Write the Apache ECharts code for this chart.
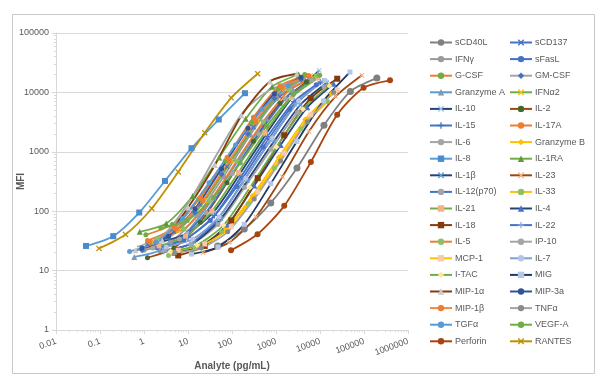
<!DOCTYPE html>
<html><head><meta charset="utf-8">
<script src="https://cdn.jsdelivr.net/npm/echarts@6/dist/echarts.min.js"></script>
<style>html,body{margin:0;padding:0;background:#fff}#c{width:600px;height:389px}</style>
</head><body><div id="c"></div>
<script>
// ---- tick labels ----
const xTickLabels = ['0.01','0.1','1','10','100','1000','10000','100000','1000000'];
const yTickLabels = ['1','10','100','1000','10000','100000'];

// ---- series names (legend order) ----
const seriesNames = ['sCD40L','sCD137','IFNγ','sFasL','G-CSF','GM-CSF','Granzyme A','IFNα2','IL-10','IL-2','IL-15','IL-17A','IL-6','Granzyme B','IL-8','IL-1RA','IL-1β','IL-23','IL-12(p70)','IL-33','IL-21','IL-4','IL-18','IL-22','IL-5','IP-10','MCP-1','IL-7','I-TAC','MIG','MIP-1α','MIP-3a','MIP-1β','TNFα','TGFα','VEGF-A','Perforin','RANTES'];

// ---- series values: analyte (pg/mL) and MFI ----
const sCD40L_x = [47,190,760,3000,12300,49000,196000];
const sCD40L_y = [26,50,138,535,2800,10400,17400];
const sCD137_x = [1.2,4.8,19,77,310,1230,4900];
const sCD137_y = [28,45,130,560,2600,8500,16000];
const IFNg_x = [1.0,4,16,64,256,1020,4100];
const IFNg_y = [22,30,85,380,1900,7800,17000];
const sFasL_x = [2.0,8,32,128,512,2050,8200];
const sFasL_y = [24,33,70,260,1200,5200,13500];
const GCSF_x = [1.1,4.4,17.6,70,280,1130,4500];
const GCSF_y = [40,60,160,700,3100,11500,20000];
const GMCSF_x = [0.9,3.6,14.4,58,230,920,3700];
const GMCSF_y = [22,35,95,420,2000,8000,16500];
const GranzymeA_x = [0.6,2.4,9.6,38,154,614,2460];
const GranzymeA_y = [17,22,45,170,800,3600,11000];
const IFNa2_x = [1.5,6,24,96,384,1540,6150];
const IFNa2_y = [30,48,150,700,3300,11500,19500];
const IL10_x = [2.3,9.4,37.5,150,600,2400,9600];
const IL10_y = [30,42,95,420,2000,8500,23400];
const IL2_x = [1.2,4.8,19,77,307,1230,4900];
const IL2_y = [16.5,24,65,300,1500,6500,15000];
const IL15_x = [2.5,10,40,160,640,2560,10240];
const IL15_y = [25,36,85,380,1800,7000,15000];
const IL17A_x = [1.2,4.8,19,77,307,1230,5400];
const IL17A_y = [32,52,170,800,3800,13000,19000];
const IL6_x = [3.0,12,48,192,770,3070,12300];
const IL6_y = [22,28,60,250,1100,4600,12500];
const GranzymeB_x = [4.5,18,72,288,1150,4600,18400];
const GranzymeB_y = [20,26,50,180,800,3500,9500];
const IL8_x = [0.048,0.2,0.78,3.0,12,50,197];
const IL8_y = [26,38,95,323,1150,3500,9700];
const IL1RA_x = [0.8,3.2,12.8,51,205,820,3280];
const IL1RA_y = [45,62,180,800,3600,12500,20000];
const IL1b_x = [3.5,14,56,224,900,3600,14300];
const IL1b_y = [22,30,75,330,1500,6200,14500];
const IL23_x = [22,88,350,1400,5600,22400,89600];
const IL23_y = [20,30,80,380,2200,8500,19500];
const IL12_x = [1.6,6.4,25.6,102,410,1640,6550];
const IL12_y = [24,34,95,430,2000,7800,16000];
const IL33_x = [3.6,14.5,58,235,920,3700,14800];
const IL33_y = [18,24,45,134,535,2450,7000];
const IL21_x = [2.2,8.8,35,140,560,2250,9000];
const IL21_y = [26,38,100,450,2100,8200,17500];
const IL4_x = [5,20,80,320,1280,5120,20480];
const IL4_y = [20,26,60,270,1300,5600,14000];
const IL18_x = [6,24,96,384,1540,6150,24600];
const IL18_y = [18,26,70,360,1900,8000,17000];
const IL22_x = [2.8,11,45,180,720,2880,11500];
const IL22_y = [21,28,70,320,1500,6400,15500];
const IL5_x = [2.0,8,32,128,512,2050,8200];
const IL5_y = [35,50,150,700,3200,11000,19000];
const IP10_x = [0.7,2.8,11,45,180,720,2900];
const IP10_y = [25,40,150,900,4700,11000,15500];
const MCP1_x = [6,24,96,384,1540,6150,24600];
const MCP1_y = [22,28,55,210,950,4200,11000];
const IL7_x = [3.2,12.8,51,205,820,3280,13100];
const IL7_y = [25,34,80,360,1700,7200,16000];
const ITAC_x = [4,16,64,256,1024,4096,16400];
const ITAC_y = [21,27,58,250,1200,5200,13000];
const MIG_x = [12,48,190,760,3000,12000,48000];
const MIG_y = [19,25,60,290,1500,7200,22000];
const MIP1a_x = [0.64,2.6,10,41,165,730,2950];
const MIP1a_y = [22,32,115,600,4100,15300,20600];
const MIP3a_x = [0.9,3.6,14.4,58,230,920,3700];
const MIP3a_y = [24,38,110,520,2500,9500,18000];
const MIP1b_x = [1.35,5.4,21.6,86,345,1380,5530];
const MIP1b_y = [30,50,150,700,3300,12000,19000];
const TNFa_x = [5,20,80,320,1280,5120,20480];
const TNFa_y = [20,24,45,160,700,3200,10000];
const TGFa_x = [0.47,1.9,7.5,30,120,480,1900];
const TGFa_y = [21,30,75,300,1300,5200,13000];
const VEGFA_x = [2.4,9.6,38,154,614,2460,9830];
const VEGFA_y = [52,70,170,650,2700,9200,19500];
const Perforin_x = [95,380,1540,6200,24600,98000,390000];
const Perforin_y = [22,41,123,675,4200,12000,16000];
const RANTES_x = [0.095,0.38,1.5,6,24,96,384];
const RANTES_y = [23.6,40.6,111,458,2100,8100,20600];

const dataX = [sCD40L_x,sCD137_x,IFNg_x,sFasL_x,GCSF_x,GMCSF_x,GranzymeA_x,IFNa2_x,IL10_x,IL2_x,IL15_x,IL17A_x,IL6_x,GranzymeB_x,IL8_x,IL1RA_x,IL1b_x,IL23_x,IL12_x,IL33_x,IL21_x,IL4_x,IL18_x,IL22_x,IL5_x,IP10_x,MCP1_x,IL7_x,ITAC_x,MIG_x,MIP1a_x,MIP3a_x,MIP1b_x,TNFa_x,TGFa_x,VEGFA_x,Perforin_x,RANTES_x];
const dataY = [sCD40L_y,sCD137_y,IFNg_y,sFasL_y,GCSF_y,GMCSF_y,GranzymeA_y,IFNa2_y,IL10_y,IL2_y,IL15_y,IL17A_y,IL6_y,GranzymeB_y,IL8_y,IL1RA_y,IL1b_y,IL23_y,IL12_y,IL33_y,IL21_y,IL4_y,IL18_y,IL22_y,IL5_y,IP10_y,MCP1_y,IL7_y,ITAC_y,MIG_y,MIP1a_y,MIP3a_y,MIP1b_y,TNFa_y,TGFa_y,VEGFA_y,Perforin_y,RANTES_y];

// ---- styles ----
const SX = 'path://M0,1.5L1.5,0L5,3.5L8.5,0L10,1.5L6.5,5L10,8.5L8.5,10L5,6.5L1.5,10L0,8.5L3.5,5Z';
const SP = 'path://M4,0H6V4H10V6H6V10H4V6H0V4H4Z';
const SD = 'path://M0,4H10V6H0Z';
// [lineColor, markerColor, symbol, size]
const styles = [
 ['#808080','#808080','circle',7],
 ['#4472C4','#4472C4',SX,5],
 ['#9A9A9A','#9A9A9A','circle',5],
 ['#4472C4','#4472C4','circle',5],
 ['#ED7D31','#70AD47','circle',5],
 ['#A5A5A5','#4472C4','diamond',6],
 ['#5B9BD5','#8497B0','triangle',6],
 ['#70AD47','#FFC000',SX,5],
 ['#264478','#9DC3E6',SX,5],
 ['#9E480E','#43682B','circle',5],
 ['#4472C4','#4472C4',SP,6],
 ['#ED7D31','#ED7D31','circle',5],
 ['#A5A5A5','#A5A5A5','circle',5],
 ['#FFC000','#FFC000','diamond',6],
 ['#5B9BD5','#4A8AD0','rect',6],
 ['#70AD47','#5E9A3A','triangle',6],
 ['#264478','#5B9BD5',SX,5],
 ['#9E480E','#F4B183',SX,5],
 ['#4472C4','#A5A5A5','circle',5],
 ['#FFC000','#8CC168','circle',5],
 ['#70AD47','#F4B183','rect',5],
 ['#264478','#4472C4','triangle',6],
 ['#843C0C','#843C0C',SD,6],
 ['#4472C4','#8FAADC',SP,6],
 ['#ED7D31','#8CC168','circle',5],
 ['#A5A5A5','#A5A5A5','none',5],
 ['#FFC000','#F8CBAD','rect',5],
 ['#7F9FD0','#B4C7E7','circle',5],
 ['#70AD47','#FFE699','diamond',6],
 ['#203864','#B4C7E7','rect',5],
 ['#843C0C','#C9C9C9','triangle',6],
 ['#2F5597','#2F5597','circle',5],
 ['#F08A4B','#ED7D31','circle',5],
 ['#A5A5A5','#8C8C8C','circle',5],
 ['#5B9BD5','#5B9BD5','circle',5],
 ['#70AD47','#70AD47','circle',5],
 ['#A9430F','#A9430F','circle',6],
 ['#BF9000','#BF9000',SX,6]
];

const series = seriesNames.map((name, i) => ({
  name: name,
  type: 'line',
  smooth: 0.25,
  data: dataX[i].map((x, k) => [x, dataY[i][k]]),
  symbol: styles[i][2],
  symbolSize: styles[i][3],
  showSymbol: styles[i][2] !== 'none',
  lineStyle: { color: styles[i][0], width: 1.8 },
  itemStyle: { color: styles[i][1] },
  emphasis: { disabled: true },
  animation: false
}));

const leftNames = seriesNames.filter((n, i) => i % 2 === 0);
const rightNames = seriesNames.filter((n, i) => i % 2 === 1);
const legendCommon = {
  orient: 'vertical', top: 37, itemWidth: 22, itemHeight: 8, itemGap: 5.6,
  textStyle: { fontSize: 9, color: '#595959', fontFamily: 'Liberation Sans', lineHeight: 11, padding: [0,0,0,-2] },
  selectedMode: false, padding: 0
};

const chart = echarts.init(document.getElementById('c'), null, { renderer: 'canvas' });
chart.setOption({
  animation: false,
  backgroundColor: '#ffffff',
  graphic: [{ type: 'rect', left: 10, top: 12, shape: { width: 582, height: 359 }, style: { fill: 'none', stroke: '#C8C8C8', lineWidth: 1 }, silent: true }],
  grid: { left: 56, right: 192, top: 33, bottom: 59, containLabel: false, outerBoundsMode: 'none' },
  legend: [
    Object.assign({ left: 429, data: leftNames }, legendCommon),
    Object.assign({ left: 509, data: rightNames }, legendCommon)
  ],
  xAxis: {
    type: 'log', logBase: 10, min: 0.01, max: 1000000,
    name: 'Analyte (pg/mL)', nameLocation: 'middle', nameGap: 31, nameMoveOverlap: false,
    nameTextStyle: { fontSize: 10, fontWeight: 'bold', color: '#595959', fontFamily: 'Liberation Sans' },
    axisLine: { show: true, lineStyle: { color: '#D9D9D9' } },
    axisTick: { show: true, length: 4, lineStyle: { color: '#D9D9D9' } },
    minorTick: { show: true, splitNumber: 9, length: 2, lineStyle: { color: '#D9D9D9' } },
    splitLine: { show: false },
    axisLabel: { rotate: 20, fontSize: 9, color: '#595959', fontFamily: 'Liberation Sans', margin: 11,
      formatter: (v) => xTickLabels[Math.round(Math.log10(v)) + 2] }
  },
  yAxis: {
    type: 'log', logBase: 10, min: 1, max: 100000,
    name: 'MFI', nameLocation: 'middle', nameGap: 30, nameMoveOverlap: false,
    nameTextStyle: { fontSize: 10, fontWeight: 'bold', color: '#595959', fontFamily: 'Liberation Sans' },
    axisLine: { show: true, lineStyle: { color: '#D9D9D9' } },
    axisTick: { show: true, length: 4, lineStyle: { color: '#D9D9D9' } },
    minorTick: { show: true, splitNumber: 9, length: 2, lineStyle: { color: '#D9D9D9' } },
    splitLine: { show: true, lineStyle: { color: '#D9D9D9', width: 1 } },
    axisLabel: { fontSize: 9, color: '#595959', fontFamily: 'Liberation Sans', margin: 7,
      formatter: (v) => yTickLabels[Math.round(Math.log10(v))] }
  },
  series: series
});
</script></body></html>
